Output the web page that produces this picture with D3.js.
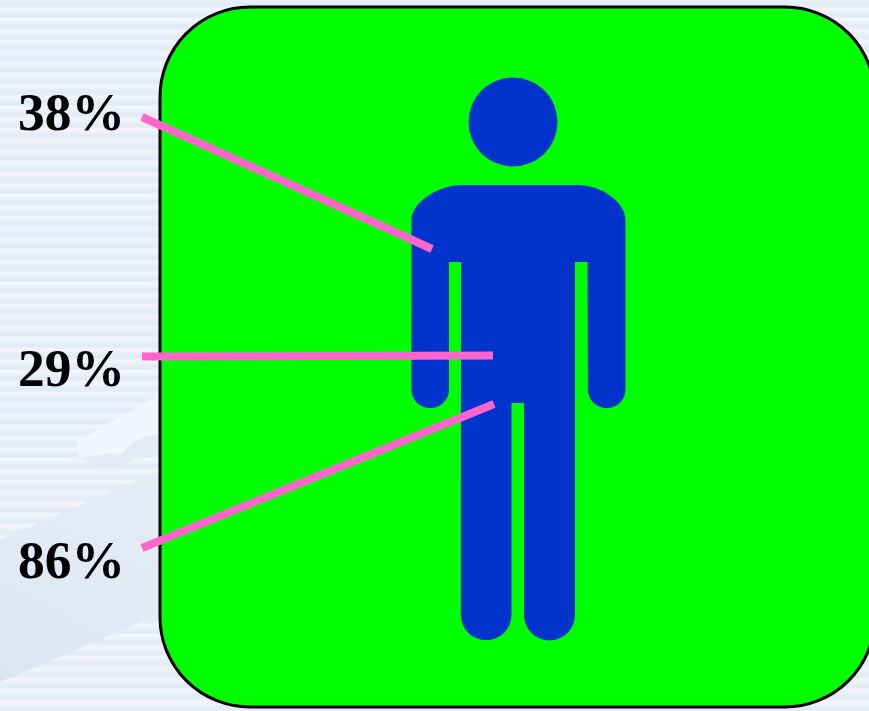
<!DOCTYPE html>
<html>
<head>
<meta charset="utf-8">
<script src="https://cdn.jsdelivr.net/npm/d3@7/dist/d3.min.js"></script>
<style>
html,body{margin:0;padding:0;background:#e6eef8;overflow:hidden}
svg{display:block}
</style>
</head>
<body>
<div id="chart"></div>
<script>
// Share of each body region
const regions = ["Upper body", "Abdomen", "Lower body"];
const percents = [38, 29, 86];

const width = 869, height = 711;
const svg = d3.select("#chart").append("svg").attr("width", width).attr("height", height);
const defs = svg.append("defs");

// Page background: soft horizontal bands repeating every 11 pixels
const band = defs.append("linearGradient").attr("id", "band")
  .attr("gradientUnits", "userSpaceOnUse")
  .attr("x1", 0).attr("x2", 0).attr("y1", -2.5).attr("y2", 8.5)
  .attr("spreadMethod", "repeat");
[[0, "#f2f6fc"], [0.25, "#ebf1f9"], [0.5, "#e3ecf6"], [0.75, "#e4ecf7"], [1, "#f2f6fc"]]
  .forEach(([o, c]) => band.append("stop").attr("offset", o).attr("stop-color", c));
svg.append("rect").attr("width", width).attr("height", height).attr("fill", "url(#band)");

// Diagonal sweep behind the panel
const sweepFill = defs.append("linearGradient").attr("id", "sweep")
  .attr("x1", 0.6).attr("y1", 0).attr("x2", 0.2).attr("y2", 1);
[[0, "#e3ecf6"], [0.55, "#e0eaf5"], [1, "#dce6f0"]]
  .forEach(([o, c]) => sweepFill.append("stop").attr("offset", o).attr("stop-color", c));

const outline = d3.line().curve(d3.curveLinearClosed);
svg.append("path").attr("fill", "url(#sweep)")
  .attr("d", outline([[0,540],[155,473],[165,473],[165,612],[0,682]]));
svg.append("path").attr("fill", "#e2ebf6")
  .attr("d", outline([[78,458],[100,466],[122,464],[136,459],[165,453],[165,425],[120,450]]));
svg.append("path").attr("fill", "#f2f6fc")
  .attr("d", outline([[78,441],[165,392],[165,433],[137,438],[120,455],[110,453],[78,458]]));

// Green rounded panel
svg.append("rect")
  .attr("x", 160).attr("y", 7).attr("width", 715).attr("height", 700)
  .attr("rx", 90).attr("ry", 90)
  .attr("fill", "#00ff00").attr("stroke", "#000").attr("stroke-width", 3);

// Figure silhouette
const blue = "#0033cc";
const figure = svg.append("g").attr("fill", blue);
figure.append("circle").attr("cx", 513).attr("cy", 122).attr("r", 44.5);
const silhouette = d3.path();
silhouette.moveTo(463, 185);
silhouette.lineTo(577, 185);
silhouette.bezierCurveTo(603, 185, 625.5, 203, 625.5, 220);
silhouette.lineTo(625.5, 389.5);
silhouette.arc(606.7, 389.5, 18.8, 0, Math.PI);
silhouette.lineTo(587.5, 262);
silhouette.lineTo(575, 262);
silhouette.lineTo(575, 615);
silhouette.arc(549.5, 615, 25.5, 0, Math.PI);
silhouette.lineTo(524, 403);
silhouette.lineTo(511.5, 403);
silhouette.lineTo(511.5, 615);
silhouette.arc(486.2, 615, 25.3, 0, Math.PI);
silhouette.lineTo(461, 262);
silhouette.lineTo(449, 262);
silhouette.lineTo(449, 389.5);
silhouette.arc(430.2, 389.5, 18.8, 0, Math.PI);
silhouette.lineTo(411.5, 220);
silhouette.bezierCurveTo(411.5, 203, 437, 185, 463, 185);
silhouette.closePath();
figure.append("path").attr("d", silhouette.toString());

// Leader lines and percentage labels, one row per region
const leaderFrom = d3.scaleOrdinal().domain(regions).range([[142,117],[142,356.5],[142,548]]);
const leaderTo = d3.scaleOrdinal().domain(regions).range([[432,249],[493,355.5],[494,404]]);
const labelBaseline = d3.scaleOrdinal().domain(regions).range([130,386,578]);

svg.append("g").selectAll("line").data(regions).join("line")
  .attr("x1", d => leaderFrom(d)[0]).attr("y1", d => leaderFrom(d)[1])
  .attr("x2", d => leaderTo(d)[0]).attr("y2", d => leaderTo(d)[1])
  .attr("stroke", "#ff66cc").attr("stroke-width", 8);

svg.append("g").selectAll("text").data(regions).join("text")
  .attr("x", 18).attr("y", d => labelBaseline(d))
  .attr("font-family", "'Liberation Serif', serif")
  .attr("font-weight", "bold").attr("font-size", 53.5).attr("fill", "#000")
  .text((d, i) => percents[i] + "%");
</script>
</body>
</html>
